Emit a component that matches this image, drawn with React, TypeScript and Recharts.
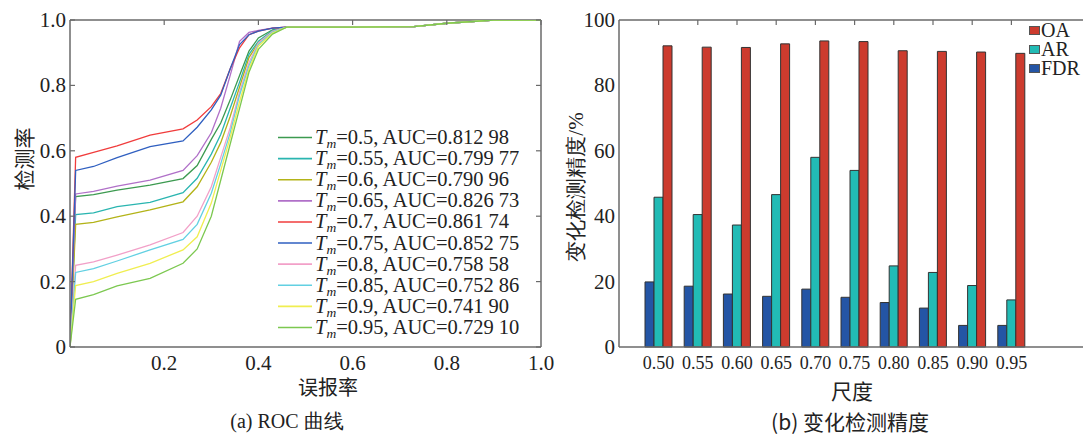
import React from 'react';
import { LineChart, Line, XAxis, YAxis, ReferenceLine, Legend, BarChart, Bar } from 'recharts';

// ---- ROC curves (a) ----
const fpr = [0, 0.012, 0.05, 0.1, 0.17, 0.24, 0.27, 0.3, 0.32, 0.34, 0.36, 0.38, 0.4, 0.43, 0.46, 0.6, 0.73, 0.8, 0.9, 1.0];

const thresholds = ['0.5', '0.55', '0.6', '0.65', '0.7', '0.75', '0.8', '0.85', '0.9', '0.95'];
const aucs = ['0.812 98', '0.799 77', '0.790 96', '0.826 73', '0.861 74', '0.852 75', '0.758 58', '0.752 86', '0.741 90', '0.729 10'];
const rocColors = ['#3c9a50', '#2ab5b0', '#b3b318', '#b070c8', '#f03c3c', '#2f5fc0', '#f2a0c8', '#62d0e2', '#f0ee50', '#7cc850'];

const tpr050 = [0, 0.46, 0.466, 0.48, 0.495, 0.515, 0.555, 0.635, 0.685, 0.755, 0.83, 0.905, 0.945, 0.97, 0.978, 0.978, 0.98, 0.99, 1, 1];
const tpr055 = [0, 0.405, 0.41, 0.429, 0.442, 0.472, 0.516, 0.59, 0.65, 0.73, 0.81, 0.895, 0.935, 0.968, 0.978, 0.978, 0.98, 0.99, 1, 1];
const tpr060 = [0, 0.375, 0.381, 0.398, 0.419, 0.444, 0.49, 0.565, 0.625, 0.705, 0.795, 0.885, 0.93, 0.965, 0.978, 0.978, 0.98, 0.99, 1, 1];
const tpr065 = [0, 0.468, 0.476, 0.492, 0.51, 0.54, 0.585, 0.655, 0.73, 0.83, 0.935, 0.962, 0.968, 0.975, 0.978, 0.978, 0.98, 0.99, 1, 1];
const tpr070 = [0, 0.58, 0.595, 0.615, 0.648, 0.667, 0.694, 0.735, 0.775, 0.85, 0.915, 0.955, 0.966, 0.975, 0.978, 0.978, 0.98, 0.99, 1, 1];
const tpr075 = [0, 0.54, 0.552, 0.579, 0.613, 0.63, 0.672, 0.725, 0.77, 0.85, 0.925, 0.955, 0.966, 0.975, 0.978, 0.978, 0.98, 0.99, 1, 1];
const tpr080 = [0, 0.25, 0.26, 0.281, 0.312, 0.35, 0.4, 0.49, 0.58, 0.67, 0.78, 0.87, 0.93, 0.965, 0.978, 0.978, 0.98, 0.99, 1, 1];
const tpr085 = [0, 0.228, 0.24, 0.263, 0.297, 0.329, 0.375, 0.47, 0.56, 0.655, 0.77, 0.86, 0.925, 0.963, 0.978, 0.978, 0.98, 0.99, 1, 1];
const tpr090 = [0, 0.188, 0.2, 0.225, 0.256, 0.297, 0.337, 0.44, 0.54, 0.64, 0.75, 0.85, 0.92, 0.96, 0.978, 0.978, 0.98, 0.99, 1, 1];
const tpr095 = [0, 0.146, 0.16, 0.187, 0.21, 0.256, 0.3, 0.4, 0.51, 0.62, 0.73, 0.84, 0.91, 0.957, 0.978, 0.978, 0.98, 0.99, 1, 1];

const tprSeries = [tpr050, tpr055, tpr060, tpr065, tpr070, tpr075, tpr080, tpr085, tpr090, tpr095];

const rocXTicks = [0.2, 0.4, 0.6, 0.8, 1.0];
const rocYTicks = [0, 0.2, 0.4, 0.6, 0.8, 1.0];

// ---- change detection accuracy (b) ----
const scales = ['0.50', '0.55', '0.60', '0.65', '0.70', '0.75', '0.80', '0.85', '0.90', '0.95'];
const oaValues = [92.1, 91.7, 91.6, 92.7, 93.6, 93.4, 90.6, 90.4, 90.2, 89.8];
const arValues = [45.8, 40.5, 37.3, 46.6, 58.0, 54.0, 24.8, 22.8, 18.8, 14.4];
const fdrValues = [19.9, 18.6, 16.2, 15.5, 17.7, 15.2, 13.6, 11.9, 6.6, 6.6];
const accYTicks = [0, 20, 40, 60, 80, 100];
const accSeries = ['FDR', 'AR', 'OA'];
const accColors: Record<string, string> = { FDR: '#2455a5', AR: '#22bbb5', OA: '#cc3b2e' };

const rocData = fpr.map((x, i) => {
  const row: any = { fpr: x };
  tprSeries.forEach((s, k) => { row['s' + k] = s[i]; });
  return row;
});

const barData = scales.map((s, i) => ({ scale: s, FDR: fdrValues[i], AR: arValues[i], OA: oaValues[i] }));

const SERIF = "'Liberation Serif', 'Times New Roman', Tinos, 'DejaVu Serif', serif";
const CJK = "'Noto Sans CJK SC', sans-serif";
const AXIS = '#6a6a6a';
const TEXT = '#222';

const RocXTick = ({ x, payload }: any) => (
  <g>
    <line x1={x} x2={x} y1={20} y2={25} stroke={AXIS} strokeWidth={1.2} />
    <text x={x} y={363} textAnchor="middle" dominantBaseline="central" fontFamily={SERIF} fontSize={21} fill={TEXT}>
      {Number(payload.value).toFixed(1)}
    </text>
  </g>
);

const RocYTick = ({ y, payload }: any) => (
  <g>
    <line x1={70} x2={75} y1={y} y2={y} stroke={AXIS} strokeWidth={1.2} />
    <line x1={541} x2={536} y1={y} y2={y} stroke={AXIS} strokeWidth={1.2} />
    <text x={66} y={y} textAnchor="end" dominantBaseline="central" fontFamily={SERIF} fontSize={21} fill={TEXT}>
      {payload.value === 0 ? '0' : Number(payload.value).toFixed(1)}
    </text>
  </g>
);

const AccXTick = ({ x, payload }: any) => (
  <g>
    <line x1={x} x2={x} y1={20} y2={25} stroke={AXIS} strokeWidth={1.2} />
    <text x={x} y={363} textAnchor="middle" dominantBaseline="central" fontFamily={SERIF} fontSize={18} fill={TEXT}>
      {payload.value}
    </text>
  </g>
);

const AccYTick = ({ y, payload }: any) => (
  <text x={55} y={y} textAnchor="end" dominantBaseline="central" fontFamily={SERIF} fontSize={21} fill={TEXT}>
    {payload.value}
  </text>
);

const ROW = 21.1;
const RocLegend = () => (
  <svg width={262} height={ROW * thresholds.length + 4} style={{ display: 'block' }}>
    {thresholds.map((t, k) => {
      const cy = ROW * k + ROW / 2;
      return (
        <g key={k}>
          <line x1={0} x2={34} y1={cy} y2={cy} stroke={rocColors[k]} strokeWidth={1.6} />
          <text x={37} y={cy + 6.5} fontFamily={SERIF} fontSize={20.5} fill={TEXT}>
            <tspan fontStyle="italic">T</tspan>
            <tspan fontStyle="italic" fontSize={13.5} dy={4}>m</tspan>
            <tspan dy={-4}>{`=${t}, AUC=${aucs[k]}`}</tspan>
          </text>
        </g>
      );
    })}
  </svg>
);

// legend svg has 6px headroom so the first row is not clipped
const AccLegend = () => (
  <svg width={70} height={70} style={{ display: 'block' }}>
    {[...accSeries].reverse().map((name, k) => {
      const cy = 6 + 19 * k + 9.5;
      return (
        <g key={name}>
          <rect x={1.5} y={cy - 4} width={10} height={8} fill={accColors[name]} stroke="#555" strokeWidth={1} />
          <text x={13} y={cy + 6.5} fontFamily={SERIF} fontSize={20} fill={TEXT}>{name}</text>
        </g>
      );
    })}
  </svg>
);

const label = (text: string, style: React.CSSProperties) => (
  <div style={{ position: 'absolute', whiteSpace: 'nowrap', color: TEXT, fontFamily: SERIF, fontSize: 21, lineHeight: 1, ...style }}>{text}</div>
);

export default function App() {
  return (
    <div style={{ position: 'absolute', left: 0, top: 0, width: 1083, height: 436, overflow: 'hidden', background: '#fff' }}>
      {/* (a) ROC */}
      <div style={{ position: 'absolute', left: 0, top: 0 }}>
        <LineChart width={560} height={436} data={rocData} margin={{ top: 20, right: 19, bottom: 59, left: 10 }}>
          <XAxis dataKey="fpr" type="number" domain={[0, 1]} ticks={rocXTicks} tick={<RocXTick />} tickLine={false}
            axisLine={{ stroke: AXIS, strokeWidth: 1.5 }} height={30} allowDataOverflow />
          <YAxis type="number" domain={[0, 1]} ticks={rocYTicks} tick={<RocYTick />} tickLine={false}
            axisLine={{ stroke: AXIS, strokeWidth: 1.5 }} width={60} allowDataOverflow />
          <ReferenceLine y={1} stroke={AXIS} strokeWidth={1.5} />
          <ReferenceLine x={1} stroke={AXIS} strokeWidth={1.5} />
          {tprSeries.map((_, k) => (
            <Line key={k} type="linear" dataKey={'s' + k} name={thresholds[k]} stroke={rocColors[k]}
              strokeWidth={1.3} dot={false} isAnimationActive={false} />
          ))}
          <Legend layout="vertical" align="center" verticalAlign="middle" content={<RocLegend />}
            wrapperStyle={{ left: 278, top: 127, width: 262 }} />
        </LineChart>
      </div>
      {label('检测率', { left: 23, top: 159, fontFamily: CJK, transform: 'translate(-50%, -50%) rotate(-90deg)' })}
      {label('误报率', { left: 328, top: 387, fontSize: 20, fontFamily: CJK, transform: 'translate(-50%, -50%)' })}
      {label('(a) ROC 曲线', { left: 287, top: 421, fontSize: 20, transform: 'translate(-50%, -50%)' })}

      {/* (b) accuracy bars */}
      <div style={{ position: 'absolute', left: 560, top: 0 }}>
        <BarChart width={540} height={436} data={barData} barGap={0} barSize={9}
          margin={{ top: 20, right: 10, bottom: 59, left: 9 }}>
          <XAxis dataKey="scale" tick={<AccXTick />} tickLine={false} interval={0} padding={{ left: 20, right: 59 }}
            axisLine={{ stroke: AXIS, strokeWidth: 1.5 }} height={30} />
          <YAxis type="number" domain={[0, 100]} ticks={accYTicks} tick={<AccYTick />} tickLine={false}
            axisLine={{ stroke: AXIS, strokeWidth: 1.5 }} width={50} />
          <ReferenceLine y={100} stroke={AXIS} strokeWidth={1.5} />
          {accSeries.map((name) => (
            <Bar key={name} dataKey={name} fill={accColors[name]} stroke="#333" strokeWidth={1} isAnimationActive={false} />
          ))}
          <Legend layout="vertical" align="center" verticalAlign="middle" content={<AccLegend />}
            wrapperStyle={{ left: 468, top: 15, width: 70 }} />
        </BarChart>
      </div>
      {label('变化检测精度/%', { left: 576, top: 187, transform: 'translate(-50%, -50%) rotate(-90deg)' })}
      {label('尺度', { left: 852, top: 390, fontFamily: CJK, transform: 'translate(-50%, -50%)' })}
      {label('(b) 变化检测精度', { left: 850, top: 421, fontFamily: CJK, fontSize: 21, transform: 'translate(-50%, -50%)' })}
    </div>
  );
}
